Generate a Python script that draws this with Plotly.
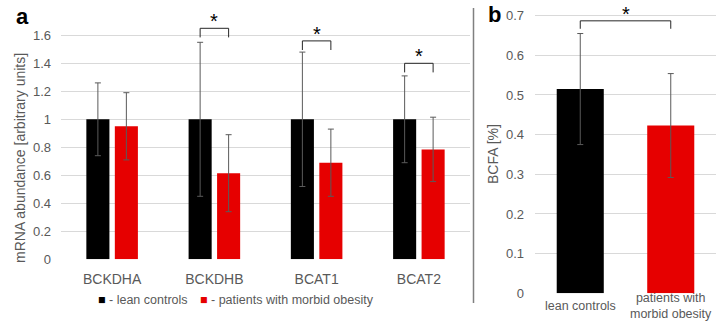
import plotly.graph_objects as go

# ---- panel a: mRNA abundance of BCAA catabolism genes ----
genes = ["BCKDHA", "BCKDHB", "BCAT1", "BCAT2"]
lean_mrna = [1.0, 1.0, 1.0, 1.0]
lean_mrna_sd = [0.26, 0.55, 0.48, 0.31]
obese_mrna = [0.95, 0.615, 0.69, 0.785]
obese_mrna_sd = [0.24, 0.275, 0.24, 0.23]
mrna_ticks = [0, 0.2, 0.4, 0.6, 0.8, 1.0, 1.2, 1.4, 1.6]
mrna_ticktext = ["0", "0.2", "0.4", "0.6", "0.8", "1", "1.2", "1.4", "1.6"]
sig_genes = ["BCKDHB", "BCAT1", "BCAT2"]
sig_bracket_y = [1.65, 1.56, 1.40]

# ---- panel b: branched-chain fatty acids ----
groups = ["lean controls", "patients with<br>morbid obesity"]
bcfa = [0.515, 0.423]
bcfa_sd = [0.14, 0.131]
bcfa_ticks = [0, 0.1, 0.2, 0.3, 0.4, 0.5, 0.6, 0.7]
bcfa_bracket_y = 0.687

BLACK = "#000000"
RED = "#e60000"
GRID = "#d9d9d9"
TICK = "#595959"
ERR = "#5a5a5a"
FONT = "Arial, Liberation Sans, sans-serif"

W, H = 719, 321


def px(x):
    return x / W


def py(y):
    return 1 - y / H


BARGAP = 0.443
GROUPGAP = 0.19
half_off = (1 - BARGAP) / 4  # centre offset of each bar in a group

fig = go.Figure()

err_style = dict(type="data", color=ERR, thickness=1, width=3)

fig.add_trace(go.Bar(
    x=genes, y=lean_mrna, name="lean controls", marker_color=BLACK,
    marker_line_width=0,
    error_y=dict(array=lean_mrna_sd, **err_style), xaxis="x", yaxis="y",
))
fig.add_trace(go.Bar(
    x=genes, y=obese_mrna, name="patients with morbid obesity", marker_color=RED,
    marker_line_width=0,
    error_y=dict(array=obese_mrna_sd, **err_style), xaxis="x", yaxis="y",
))
fig.add_trace(go.Bar(
    x=groups, y=bcfa, marker_color=[BLACK, RED], marker_line_width=0, width=0.52,
    error_y=dict(array=bcfa_sd, **err_style), xaxis="x2", yaxis="y2",
))

shapes = []
annotations = []


def bracket(xref, yref, x0, x1, y, drop):
    line = dict(color="#262626", width=1)
    for (a, b, c, d) in [(x0, y - drop, x0, y), (x0, y, x1, y), (x1, y, x1, y - drop)]:
        shapes.append(dict(type="line", xref=xref, yref=yref, x0=a, y0=b, x1=c, y1=d,
                           line=line, layer="above"))
    annotations.append(dict(xref=xref, yref=yref, x=(x0 + x1) / 2, y=y, text="*",
                            showarrow=False, yanchor="bottom", yshift=-6,
                            font=dict(family=FONT, size=20, color="#000000")))


for g, yb in zip(sig_genes, sig_bracket_y):
    i = genes.index(g)
    bracket("x", "y", i - half_off, i + half_off, yb, 0.065)

bracket("x2", "y2", 0, 1, bcfa_bracket_y, 0.02)

# x labels of panel b, centred vertically like two-line labels
for i, g in enumerate(groups):
    annotations.append(dict(xref="x2", yref="paper", x=i, y=py(305.5), text=g,
                            showarrow=False, yanchor="middle", borderpad=0,
                            font=dict(family=FONT, size=12.5, color=TICK)))

# panel letters
annotations.append(dict(xref="paper", yref="paper", x=px(14), y=py(2), text="<b>a</b>",
                        showarrow=False, xanchor="left", yanchor="top",
                        font=dict(family=FONT, size=22, color="#000000")))
annotations.append(dict(xref="paper", yref="paper", x=px(486), y=py(0), text="<b>b</b>",
                        showarrow=False, xanchor="left", yanchor="top",
                        font=dict(family=FONT, size=22, color="#000000")))

# y-axis titles
annotations.append(dict(xref="paper", yref="paper", x=px(20), y=py(158),
                        text="mRNA abundance [arbitrary units]", textangle=-90,
                        showarrow=False, xanchor="center", yanchor="middle",
                        font=dict(family=FONT, size=14, color=TICK)))
annotations.append(dict(xref="paper", yref="paper", x=px(493), y=py(154),
                        text="BCFA [%]", textangle=-90,
                        showarrow=False, xanchor="center", yanchor="middle",
                        font=dict(family=FONT, size=14, color=TICK)))

# legend for panel a
annotations.append(dict(xref="paper", yref="paper", x=px(96), y=py(300),
                        text=f"<span style='color:{BLACK}'>■</span> - lean controls",
                        showarrow=False, xanchor="left", yanchor="middle",
                        font=dict(family=FONT, size=12.5, color=TICK)))
annotations.append(dict(xref="paper", yref="paper", x=px(198), y=py(300),
                        text=f"<span style='color:{RED}'>■</span> - patients with morbid obesity",
                        showarrow=False, xanchor="left", yanchor="middle",
                        font=dict(family=FONT, size=12.5, color=TICK)))

# divider between panels
shapes.append(dict(type="line", xref="paper", yref="paper", x0=px(473.5), x1=px(473.5),
                   y0=py(8), y1=py(303), line=dict(color="#808080", width=1.5)))

y0_a = 259.3
top_a = 1.75
y0_b = 293.3
top_b = 0.72

fig.update_layout(
    template="none",
    autosize=False,
    width=W, height=H,
    margin=dict(l=0, r=0, t=0, b=0, pad=0, autoexpand=False),
    paper_bgcolor="white", plot_bgcolor="white",
    barmode="group", bargap=BARGAP, bargroupgap=GROUPGAP,
    showlegend=False,
    font=dict(family=FONT, size=12, color=TICK),
    xaxis=dict(domain=[px(61), px(470)], range=[-0.5, 3.5], anchor="y",
               automargin=False, showgrid=False, showline=False, zeroline=False,
               ticks="", ticklabelstandoff=10,
               tickfont=dict(size=14, color=TICK)),
    yaxis=dict(domain=[py(y0_a), py(y0_a - top_a * 140)], range=[0, top_a], anchor="x",
               automargin=False, tickvals=mrna_ticks, ticktext=mrna_ticktext,
               showgrid=True, gridcolor=GRID, gridwidth=1, zeroline=False,
               showline=False, ticks="", ticklabelstandoff=9,
               tickfont=dict(size=13, color=TICK)),
    xaxis2=dict(domain=[px(535), px(716)], range=[-0.5, 1.5], anchor="y2",
                automargin=False, showgrid=False, showline=False, zeroline=False,
                ticks="", showticklabels=False),
    yaxis2=dict(domain=[py(y0_b), py(y0_b - top_b * 396.6)], range=[0, top_b], anchor="x2",
                automargin=False, tickvals=bcfa_ticks,
                showgrid=True, gridcolor=GRID, gridwidth=1, zeroline=False,
                showline=False, ticks="", ticklabelstandoff=10,
                tickfont=dict(size=13, color=TICK)),
    shapes=shapes,
    annotations=annotations,
)

fig.write_html("out.html")
